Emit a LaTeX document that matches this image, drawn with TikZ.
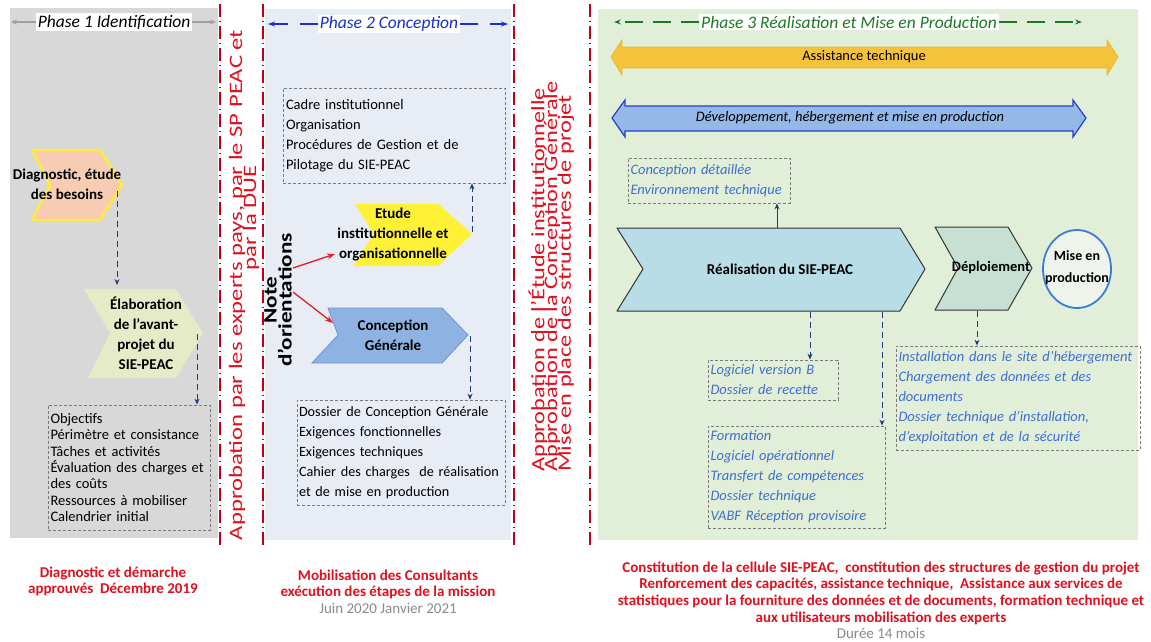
\documentclass[tikz,border=0pt]{standalone}
\usepackage{fontspec}
\setmainfont{Carlito}
\usetikzlibrary{arrows.meta,calc}
\hyphenpenalty=10000
\exhyphenpenalty=10000
\definecolor{pOne}{HTML}{D8D8D8}
\definecolor{pTwo}{HTML}{E8ECF4}
\definecolor{pThree}{HTML}{E2EFD8}
\definecolor{redln}{HTML}{C00018}
\definecolor{redtx}{HTML}{E0101E}
\definecolor{graytx}{HTML}{8A8A8A}
\definecolor{peach}{HTML}{F6CCB2}
\definecolor{yelbd}{HTML}{FFEA40}
\definecolor{elabg}{HTML}{E4EBC6}
\definecolor{yelch}{HTML}{FFF236}
\definecolor{bluech}{HTML}{8EB3E2}
\definecolor{bluechbd}{HTML}{6E94D2}
\definecolor{realf}{HTML}{B8DDE6}
\definecolor{deplf}{HTML}{C6E0D4}
\definecolor{circf}{HTML}{EEF3EC}
\definecolor{circbd}{HTML}{3C7BD6}
\definecolor{assf}{HTML}{F5C23C}
\definecolor{assbd}{HTML}{E9B62E}
\definecolor{devf}{HTML}{94B8E8}
\definecolor{devbd}{HTML}{2A3CC8}
\definecolor{bluetx}{HTML}{3F6ED0}
\definecolor{darkbl}{HTML}{1F3A78}
\definecolor{ptwoblue}{HTML}{1830C8}
\definecolor{pthreegreen}{HTML}{1C7A22}
\definecolor{boxbd}{HTML}{7A7A7A}
\definecolor{redarr}{HTML}{E02028}
\tikzset{
  sepline/.style={redln, line width=1.4pt, dash pattern=on 13pt off 4pt on 1pt off 4pt},
  dbox/.style={draw=boxbd, dash pattern=on 3pt off 2pt, line width=0.8pt, align=left, inner sep=2pt},
  blacktxt/.style={font=\fontsize{14.5}{16.4}\selectfont},
  blacktxtb/.style={font=\fontsize{14.5}{20}\selectfont},
  bluetxt/.style={text=bluetx, font=\itshape\fontsize{14.5}{20}\selectfont},
  flowarr/.style={darkbl, line width=0.9pt, dash pattern=on 6pt off 4pt, -{Stealth[length=6pt,width=5pt]}},
  solidarr/.style={darkbl, line width=0.9pt, -{Stealth[length=6pt,width=5pt]}},
  chevtxt/.style={font=\bfseries\fontsize{15}{20}\selectfont, align=center},
  redbot/.style={text=redtx, font=\bfseries\fontsize{15}{16.7}\selectfont, align=center},
  vred/.style={text=redtx, rotate=90, inner sep=0pt, font=\fontsize{19}{15}\selectfont},
  redarrow/.style={redarr, line width=1.3pt, -{Stealth[length=8pt,width=6pt]}},
  header/.style={fill=white, inner sep=2pt, font=\itshape\fontsize{17.5}{17.5}\selectfont},
}
\begin{document}
\begin{tikzpicture}[x=1pt,y=-1pt]
\useasboundingbox (0,0) rectangle (1151,641);
\fill[white] (0,0) rectangle (1151,641);
% panels
\fill[pOne] (10,8) rectangle (218,538);
\fill[pTwo] (265,9) rectangle (511,540);
\fill[pThree] (598,9) rectangle (1138,540);
% separators
\draw[sepline] (220,4) -- (220,548);
\draw[sepline] (263,4) -- (263,548);
\draw[sepline] (514,4) -- (514,548);
\draw[sepline] (590,4) -- (590,548);
% vertical red texts
\node[vred] (appA) at (237,285) {\scalebox{1.3}[1]{Approbation par les experts pays, par le SP PEAC et}};
\node[vred] (appB) at (251,218) {\scalebox{1.3}[1]{par la DUE}};
\node[vred, anchor=west] (appC) at (538,472) {\scalebox{1.28}[1]{Approbation de l’Étude institutionnelle}};
\node[vred, anchor=west] (appD) at (552,472) {\scalebox{1.28}[1]{Approbation de la Conception Générale}};
\node[vred, anchor=west] (appE) at (566,472) {\scalebox{1.28}[1]{Mise en place des structures de projet}};

% ---- headers
\node[header] (ph1) at (114,22) {Phase 1 Identification};
\coordinate (ph1l) at (11,22);
\coordinate (ph1r) at (216,22);
\draw[gray!75, line width=1.2pt, -{Stealth[length=6pt,width=5pt]}] (ph1.west) -- (ph1l);
\draw[gray!75, line width=1.2pt, -{Stealth[length=6pt,width=5pt]}] (ph1.east) -- (ph1r);

\node[header, text=ptwoblue] (ph2) at (389,24) {Phase 2 Conception};
\coordinate (ph2l) at (268,24);
\coordinate (ph2r) at (508,24);
\draw[ptwoblue, line width=1.3pt, dash pattern=on 18pt off 12pt, -{Stealth[length=7pt,width=5pt]}] (ph2.west) -- (ph2l);
\draw[ptwoblue, line width=1.3pt, dash pattern=on 18pt off 12pt, -{Stealth[length=7pt,width=5pt]}] (ph2.east) -- (ph2r);

\node[header, text=pthreegreen] (ph3) at (849,22) {Phase 3 Réalisation et Mise en Production};
\coordinate (ph3l) at (614,22);
\coordinate (ph3r) at (1082,22);
\draw[pthreegreen, line width=1.5pt, dash pattern=on 18pt off 10pt, -{Stealth[length=7pt,width=5pt]}] (ph3.west) -- (ph3l);
\draw[pthreegreen, line width=1.5pt, dash pattern=on 18pt off 10pt, -{Stealth[length=7pt,width=5pt]}] (ph3.east) -- (ph3r);

% ---- Phase 1
\filldraw[fill=peach, draw=yelbd, line width=2.5pt, line join=round] (32,150) -- (100,150) -- (122,185) -- (100,220) -- (32,220) -- (50,185) -- cycle;
\node[chevtxt] (diag) at (67,184) {Diagnostic, étude\\des besoins};
\fill[elabg] (84,289) -- (176,289) -- (203,333) -- (176,378) -- (88,378) -- (110,333) -- cycle;
\node[chevtxt] (elab) at (146,333) {Élaboration\\de l’avant-\\projet du\\SIE-PEAC};
\node[dbox, blacktxt, minimum width=162pt, minimum height=125pt, text width=157pt] (obj) at (129,467.5) {Objectifs\\Périmètre et consistance\\Tâches et activités\\Évaluation des charges et des coûts\\Ressources à mobiliser\\Calendrier initial};
\coordinate (diagout) at (117,191);
\coordinate (elabin) at (117,285);
\coordinate (elabout) at (197,334);
\draw[flowarr] (diagout) -- (elabin);
\draw[flowarr] (elabout) -- (elabout |- obj.north);

% ---- Phase 2
\node[dbox, blacktxtb, minimum width=222pt, minimum height=95pt, text width=216pt] (cadre) at (394,135.5) {Cadre institutionnel\\Organisation\\Procédures de Gestion et de\\Pilotage du SIE-PEAC};
\fill[yelch] (355,204) -- (438,204) -- (472,234) -- (438,266) -- (353,266) -- (374,234) -- cycle;
\node[chevtxt] (etude) at (393,235) {Etude\\institutionnelle et\\organisationnelle};
\filldraw[fill=bluech, draw=bluechbd, line width=0.8pt] (328,308) -- (442,308) -- (468,335) -- (442,363) -- (312,363) -- (338,335) -- cycle;
\node[chevtxt] (conc) at (393,335) {Conception\\Générale};
\node[dbox, font=\fontsize{14.2}{20}\selectfont, minimum width=208pt, minimum height=105pt, text width=204pt] (dossier) at (401,452.5) {Dossier de Conception Générale\\Exigences fonctionnelles\\Exigences techniques\\Cahier des charges~ de réalisation\\et de mise en production};
\coordinate (etudeout) at (472,232);
\coordinate (concout) at (470,336);
\draw[flowarr] (etudeout) -- (etudeout |- cadre.south);
\draw[flowarr] (concout) -- (concout |- dossier.north);
\node[rotate=90, align=center, inner sep=0pt, font=\bfseries\fontsize{19}{15}\selectfont] (note) at (278,300) {\scalebox{1.22}[1]{Note}\\\scalebox{1.22}[1]{d’orientations}};
\coordinate (noteA) at (293,268);
\coordinate (noteB) at (293,292);
\coordinate (etudein) at (335,254);
\coordinate (concin) at (333,323);
\draw[redarrow] (noteA) -- (etudein);
\draw[redarrow] (noteB) -- (concin);

% ---- Phase 3
\filldraw[fill=assf, draw=assbd, line width=0.8pt] (611,57) -- (622,40) -- (622,47) -- (1107,47) -- (1107,40) -- (1118,57) -- (1107,75) -- (1107,68) -- (622,68) -- (622,75) -- cycle;
\node[font=\fontsize{14.5}{16}\selectfont] (asst) at (864,57) {Assistance technique};
\filldraw[fill=devf, draw=devbd, line width=1.2pt] (612,118) -- (625,100) -- (625,106) -- (1073,106) -- (1073,100) -- (1086,118) -- (1073,137) -- (1073,131) -- (625,131) -- (625,137) -- cycle;
\node[font=\itshape\fontsize{14.5}{16}\selectfont] (dev) at (850,118) {Développement, hébergement et mise en production};

\node[dbox, bluetxt, minimum width=162pt, minimum height=45pt, text width=157pt] (cdet) at (709,180.5) {Conception détaillée\\Environnement technique};
\filldraw[fill=realf, draw=black!80, line width=1pt, line join=round] (617,228) -- (900,228) -- (925,269) -- (900,311) -- (617,311) -- (643,269) -- cycle;
\node[chevtxt] (real) at (780,269) {Réalisation du SIE-PEAC};
\filldraw[fill=deplf, draw=black!80, line width=1pt, line join=round] (935,227) -- (1008,227) -- (1032,268) -- (1008,310) -- (935,310) -- (958,268) -- cycle;
\node[chevtxt, font=\bfseries\fontsize{14.5}{20}\selectfont] (depl) at (991,268) {Déploiement};
\filldraw[fill=circf, draw=circbd, line width=1.8pt] (1077,269) ellipse [x radius=34, y radius=39];
\node[chevtxt, font=\bfseries\fontsize{14}{22}\selectfont] (mep) at (1077,268) {Mise en\\production};

\node[dbox, bluetxt, minimum width=130pt, minimum height=40pt, text width=125pt] (logb) at (773,380) {Logiciel version B\\Dossier de recette};
\node[dbox, bluetxt, minimum width=177pt, minimum height=102pt, text width=172pt] (form) at (796.5,477) {Formation\\Logiciel opérationnel\\Transfert de compétences\\Dossier technique\\VABF Réception provisoire};
\node[dbox, bluetxt, minimum width=244pt, minimum height=104pt, text width=239pt] (inst) at (1018,398) {Installation dans le site d'hébergement\\Chargement des données et des\\documents\\Dossier technique d'installation,\\d'exploitation et de la sécurité};

\coordinate (realtop) at (777,228);
\coordinate (realb1) at (810,312);
\coordinate (realb2) at (882,312);
\coordinate (deplb) at (977,311);
\draw[solidarr] (realtop) -- (realtop |- cdet.south);
\draw[flowarr] (realb1) -- (realb1 |- logb.north);
\draw[flowarr] (realb2) -- (realb2 |- form.north);
\draw[flowarr] (deplb) -- (deplb |- inst.north);

% ---- bottom texts
\node[redbot, anchor=north] (b1) at (113,563) {Diagnostic et démarche\\approuvés~ Décembre 2019};
\node[redbot, anchor=north] (b2) at (388,566) {Mobilisation des Consultants\\exécution des étapes de la mission\\{\color{graytx}\mdseries Juin 2020 Janvier 2021}};
\node[redbot, anchor=north] (b3) at (881,558) {Constitution de la cellule SIE-PEAC,~ constitution des structures de gestion du projet\\Renforcement des capacités, assistance technique,~ Assistance aux services de\\statistiques pour la fourniture des données et de documents, formation technique et\\aux utilisateurs mobilisation des experts\\{\color{graytx}\mdseries Durée 14 mois}};
\end{tikzpicture}
\end{document}
